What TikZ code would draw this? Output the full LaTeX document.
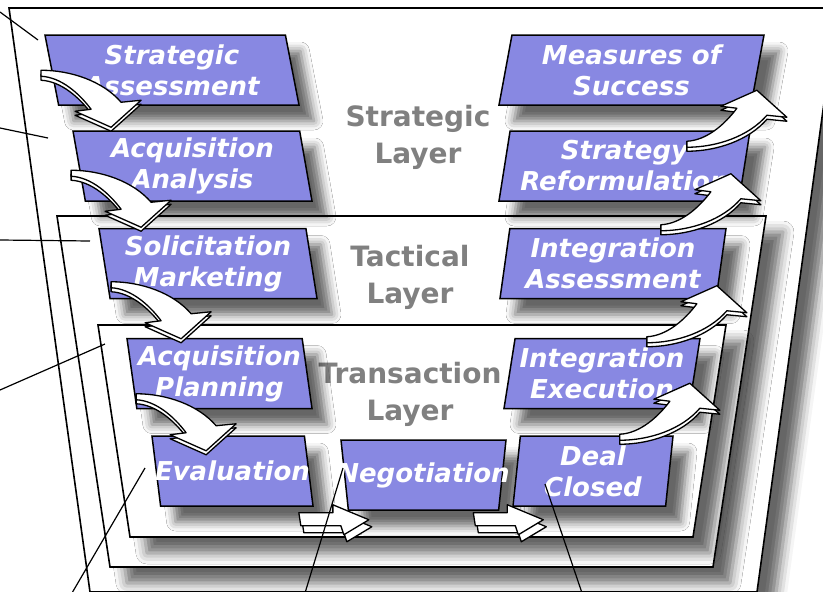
\documentclass[tikz,border=0pt]{standalone}
\usepackage{fontspec}
\setmainfont{DejaVu Sans}
\usetikzlibrary{shapes.geometric,shadows.blur}
\definecolor{boxblue}{RGB}{136,136,226}
\definecolor{layergray}{RGB}{128,128,128}
\newcommand{\bendshape}{(0,-3) .. controls (30,-3) and (62,8) .. (80,29) -- (100,27) -- (70,54) -- (34,38) -- (50,36) .. controls (38,20) and (20,4) .. (0,3) -- cycle}
\newcommand{\flatshape}{(0,0) -- (34,0) -- (34,-8) -- (70,7) -- (45,22) -- (42,13) -- (2,13) -- cycle}
\tikzset{
  bendarrow/.pic={
    \draw[arrowface, shift={(0,#1)}] \bendshape;
    \draw[arrowface] \bendshape;
  },
  flatarrow/.pic={
    \draw[arrowface, shift={(3,7)}] \flatshape;
    \draw[arrowface] \flatshape;
  }
}

\begin{document}
\begin{tikzpicture}[x=1pt,y=-1pt,
  frame/.style={draw=black, line width=1.6pt, fill=white,
    blur shadow={shadow xshift=17pt, shadow yshift=-16pt, shadow blur radius=11pt, shadow opacity=60}},
  box/.style={trapezium, draw=black, line width=1.5pt, fill=boxblue, inner xsep=0pt, inner ysep=35pt,
    minimum height=0pt, trapezium stretches body,
    blur shadow={shadow xshift=15pt, shadow yshift=-16pt, shadow blur radius=9pt, shadow opacity=60}},
  slant/.style={trapezium left angle=#1, trapezium right angle={180-#1}},
  boxtext/.style={text=white, align=center, font=\fontsize{26}{31}\selectfont\bfseries\itshape},
  layer/.style={text=layergray, align=center, font=\fontsize{28}{37}\selectfont\bfseries},
  arrowface/.style={draw=black, fill=white, line width=1.3pt, line join=round},
  leader/.style={draw=black, line width=1.2pt}]

  \useasboundingbox (0,0) rectangle (823,592);
  \clip (0,0) rectangle (823,592);

  % the three layers
  \draw[frame] (9,8) -- (837,8) -- (757,592) -- (90,592) -- cycle;
  \draw[frame] (57,216) -- (766,216) -- (713,567) -- (110,567) -- cycle;
  \draw[frame] (98,325) -- (726,325) -- (693,537) -- (130,537) -- cycle;

  \node[layer] (strat) at (418,137) {Strategic\\Layer};
  \node[layer] (tact) at (410,277) {Tactical\\Layer};
  \node[layer] (trans) at (410,394) {Transaction\\Layer};

  % left column, going down
  \node[box, slant=101, minimum width=254pt, label={[boxtext]center:{Strategic\\Assessment}}] (sa) at (172,70) {};
  \node[box, slant=100, minimum width=239pt, label={[boxtext]center:{Acquisition\\Analysis}}] (aa) at (192.5,166) {};
  \node[box, slant=99, minimum width=218pt, label={[boxtext]center:{Solicitation\\Marketing}}] (sm) at (208,263.5) {};
  \node[box, slant=98, minimum width=185pt, label={[boxtext]center:{Acquisition\\Planning}}] (ap) at (219.5,373.5) {};
  \node[box, slant=97, minimum width=161pt, label={[boxtext]center:Evaluation}] (ev) at (232.5,471) {};
  % bottom
  \node[box, trapezium left angle=96, trapezium right angle=96, minimum width=165pt, label={[boxtext]center:Negotiation}] (ng) at (423.5,475) {};
  % right column, going up
  \node[box, slant=84, minimum width=160pt, label={[boxtext]center:{Deal\\Closed}}] (dc) at (593,471) {};
  \node[box, slant=81, minimum width=196pt, label={[boxtext]center:{Integration\\Execution}}] (ie) at (602,373.5) {};
  \node[box, slant=82, minimum width=226pt, label={[boxtext]center:{Integration\\Assessment}}] (ia) at (613,263.5) {};
  \node[box, slant=81, minimum width=251pt, label={[boxtext]center:{Strategy\\Reformulation}}] (sr) at (624.5,166) {};
  \node[box, slant=79.5, minimum width=265pt, label={[boxtext]center:{Measures of\\Success}}] (ms) at (631.5,70) {};

  % block arrows
  \pic at ([shift={(-3,39)}]sa.top left corner) {bendarrow=4};
  \pic at ([shift={(-1,43)}]aa.top left corner) {bendarrow=4};
  \pic at ([shift={(13,57)}]sm.top left corner) {bendarrow=4};
  \pic at ([shift={(10,59)}]ap.top left corner) {bendarrow=4};
  \pic at ([shift={(-15,6)}]ev.bottom right corner) {flatarrow};
  \pic at ([shift={(-26,2)}]ng.bottom right corner) {flatarrow};
  \pic[yscale=-1] at ([shift={(-54,2)}]dc.top right corner) {bendarrow=-4};
  \pic[yscale=-1] at ([shift={(-54,2)}]ie.top right corner) {bendarrow=-4};
  \pic[yscale=-1] at ([shift={(-66,0)}]ia.top right corner) {bendarrow=-4};
  \pic[yscale=-1] at ([shift={(-64,14)}]sr.top right corner) {bendarrow=-4};

  % leaders to the labels outside
  \foreach \xa/\ya/\xb/\yb [count=\i] in {0/12/38/40, 0/128/48/138, 0/240/90/241,
      0/390/105/344, 72/593/145/468, 305/593/343/468, 582/593/545/484} {
    \coordinate (lead\i) at (\xa,\ya);
    \coordinate (end\i) at (\xb,\yb);
    \draw[leader] (lead\i) -- (end\i);
  }
\end{tikzpicture}
\end{document}
